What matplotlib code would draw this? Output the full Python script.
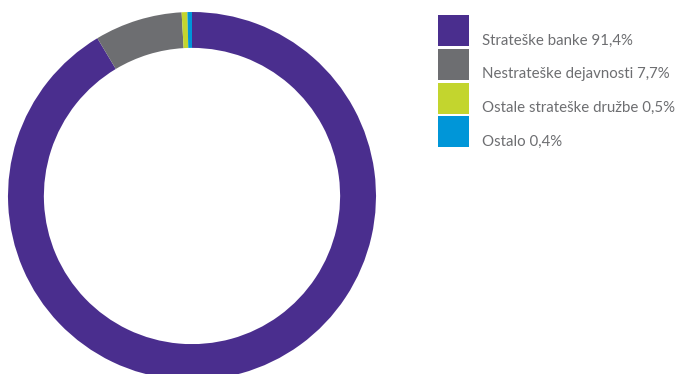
import matplotlib
matplotlib.use("Agg")
import matplotlib.pyplot as plt
from matplotlib.patches import Rectangle

labels = ["Strateške banke", "Nestrateške dejavnosti", "Ostale strateške družbe", "Ostalo"]
values = [91.4, 7.7, 0.5, 0.4]
value_text = ["91,4%", "7,7%", "0,5%", "0,4%"]
colors = ["#4a2e8e", "#6d6e71", "#c3d52e", "#0096d8"]

W, H = 681, 374
fig = plt.figure(figsize=(W / 100, H / 100), dpi=100)

# donut axes: center (192,196) px, radius 184 px
cx, cy, r = 192, 196, 184
ax = fig.add_axes([(cx - r) / W, (H - cy - r) / H, 2 * r / W, 2 * r / H])
ax.pie(values, colors=colors, startangle=90, counterclock=False,
       radius=1.0, wedgeprops=dict(width=0.195, edgecolor="none", linewidth=0))
ax.set_xlim(-1, 1)
ax.set_ylim(-1, 1)
ax.set_aspect("equal")
ax.axis("off")

# legend
font = ["Lato", "DejaVu Sans"]
x0, y0, sq, pitch = 438, 15, 31, 33.8
for i, (lab, vt, c) in enumerate(zip(labels, value_text, colors)):
    top = y0 + i * pitch
    fig.patches.append(Rectangle((x0 / W, (H - top - sq) / H), sq / W, sq / H,
                                 transform=fig.transFigure, facecolor=c,
                                 edgecolor="none", figure=fig))
    fig.text((x0 + 44) / W, (H - top - 25.5) / H, f"{lab} {vt}",
             fontsize=10.8, color="#6d6e71", family=font, va="center", ha="left")

fig.savefig("out.png", dpi=100)
